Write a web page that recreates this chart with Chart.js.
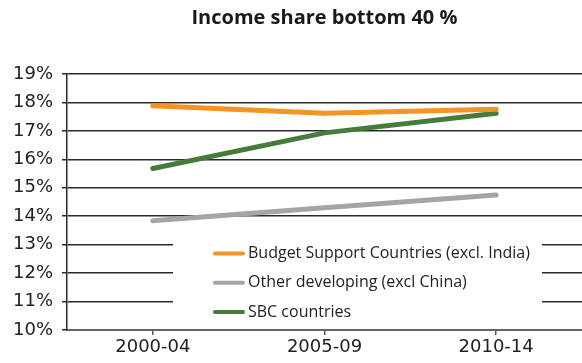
<!DOCTYPE html>
<html>
<head>
<meta charset="utf-8">
<script src="https://cdn.jsdelivr.net/npm/chart.js@4.4.1/dist/chart.umd.min.js"></script>
<style>
  html, body { margin: 0; padding: 0; background: #fff; }
  #wrap { width: 582px; height: 363px; position: relative; }
</style>
</head>
<body>
<div id="wrap"><canvas id="incomeChart"></canvas></div>
<script>
// Periods and income share of the bottom 40 % (in %)
const periods = ['2000-04', '2005-09', '2010-14'];
const budgetSupport = [17.88, 17.62, 17.76];
const otherDeveloping = [13.84, 14.30, 14.75];
const sbcCountries = [15.68, 16.93, 17.62];
const yTicks = [10, 11, 12, 13, 14, 15, 16, 17, 18, 19];

const seriesNames = [
    'Budget Support Countries (excl. India)',
    'Other developing (excl China)',
    'SBC countries'
];
const seriesColors = ['#f39425', '#a5a5a5', '#467c3a'];
const chartTitle = 'Income share bottom 40 %';

const TEXT_FONT = '"Open Sans", sans-serif';
const TICK_FONT = '"DejaVu Sans", sans-serif';

// Title centred over the plot area rather than the whole canvas
const plotTitle = {
    id: 'plotTitle',
    afterDraw(chart) {
        const ctx = chart.ctx;
        const area = chart.chartArea;
        ctx.save();
        ctx.font = 'bold 20px ' + TEXT_FONT;
        ctx.fillStyle = '#1a1a1a';
        ctx.textAlign = 'center';
        ctx.textBaseline = 'middle';
        ctx.fillText(chartTitle, (area.left + area.right) / 2, 18);
        ctx.restore();
    }
};

// Legend box drawn inside the plot, over the grid lines but under the series
const boxLegend = {
    id: 'boxLegend',
    beforeDatasetsDraw(chart) {
        const ctx = chart.ctx;
        const left = 173, top = 229, width = 369, height = 97;
        ctx.save();
        ctx.fillStyle = '#ffffff';
        ctx.fillRect(left, top, width, height);
        ctx.font = '16px ' + TEXT_FONT;
        ctx.textBaseline = 'middle';
        chart.data.datasets.forEach((ds, i) => {
            const y = 253.5 + i * 29.3;
            ctx.strokeStyle = ds.borderColor;
            ctx.lineWidth = 4;
            ctx.lineCap = 'round';
            ctx.beginPath();
            ctx.moveTo(215, y);
            ctx.lineTo(243, y);
            ctx.stroke();
            ctx.fillStyle = '#222';
            ctx.fillText(ds.label, 248, y);
        });
        ctx.restore();
    }
};

const datasets = [budgetSupport, otherDeveloping, sbcCountries].map((values, i) => ({
    label: seriesNames[i],
    data: values,
    borderColor: seriesColors[i],
    backgroundColor: seriesColors[i],
    borderWidth: 5,
    borderCapStyle: 'round',
    borderJoinStyle: 'round',
    pointRadius: 0,
    tension: 0
}));

new Chart(document.getElementById('incomeChart'), {
    type: 'line',
    data: { labels: periods, datasets: datasets },
    options: {
        responsive: true,
        maintainAspectRatio: false,
        animation: false,
        layout: { padding: { left: 0, right: 0, top: 74, bottom: 0 } },
        plugins: {
            legend: { display: false },
            tooltip: { enabled: false },
            title: { display: false }
        },
        scales: {
            x: {
                offset: true,
                afterFit: s => { s.height = 33; },
                grid: {
                    drawOnChartArea: false,
                    drawTicks: true,
                    tickLength: 5,
                    color: '#555',
                    lineWidth: 1.5
                },
                border: { color: '#666', width: 2 },
                ticks: {
                    color: '#222',
                    font: { family: TICK_FONT, size: 18 },
                    padding: 2
                }
            },
            y: {
                min: yTicks[0],
                max: yTicks[yTicks.length - 1],
                afterFit: s => { s.width = 67; },
                afterBuildTicks: s => { s.ticks = yTicks.map(v => ({ value: v })); },
                grid: {
                    color: '#2a2a2a',
                    lineWidth: 1.5,
                    drawTicks: true,
                    tickLength: 5
                },
                border: { color: '#2a2a2a', width: 1.5 },
                ticks: {
                    color: '#222',
                    font: { family: TICK_FONT, size: 18 },
                    padding: 9,
                    callback: v => v + '%'
                }
            }
        }
    },
    plugins: [boxLegend, plotTitle]
});
</script>
</body>
</html>
